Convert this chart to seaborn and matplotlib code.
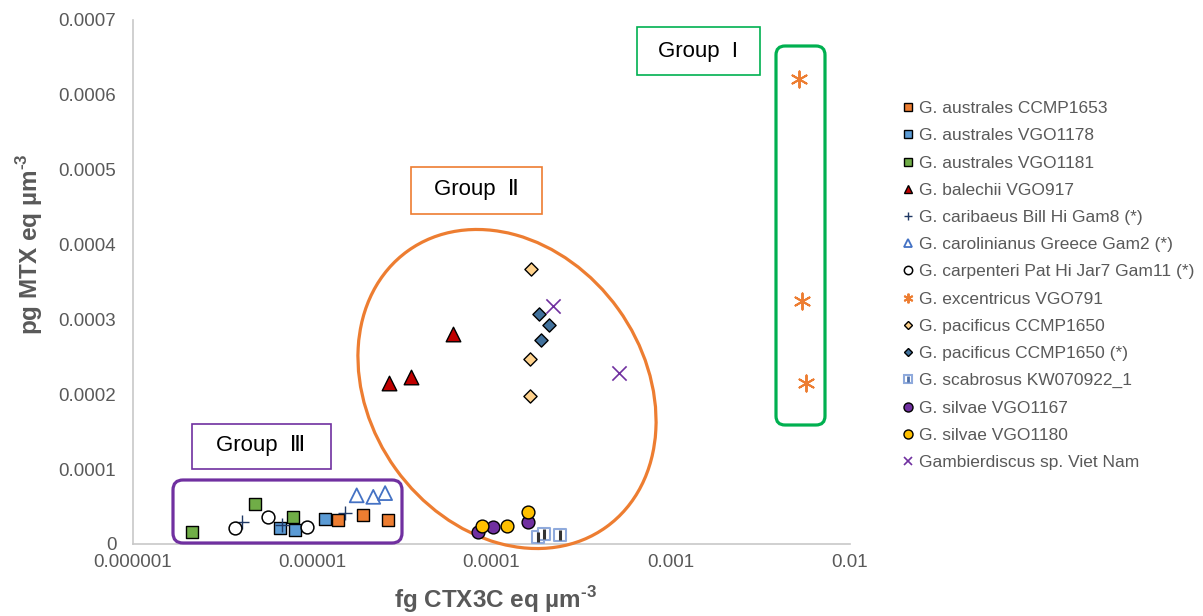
import matplotlib
matplotlib.use("Agg")
import matplotlib.pyplot as plt
import seaborn as sns
import pandas as pd
from matplotlib.patches import Ellipse, FancyBboxPatch, Rectangle
from matplotlib.lines import Line2D
from matplotlib.transforms import Affine2D

# ---------------- data ----------------
series_names = [
    "G. australes CCMP1653", "G. australes VGO1178", "G. australes VGO1181",
    "G. balechii VGO917", "G. caribaeus Bill Hi Gam8 (*)",
    "G. carolinianus Greece Gam2 (*)", "G. carpenteri Pat Hi Jar7 Gam11 (*)",
    "G. excentricus VGO791", "G. pacificus CCMP1650", "G. pacificus CCMP1650 (*)",
    "G. scabrosus KW070922_1", "G. silvae VGO1167", "G. silvae VGO1180",
    "Gambierdiscus sp. Viet Nam",
]

aus1653_x = [1.40e-5, 1.93e-5, 2.66e-5]
aus1653_y = [3.2e-5, 3.9e-5, 3.2e-5]
aus1178_x = [6.6e-6, 8.0e-6, 1.18e-5]
aus1178_y = [2.1e-5, 1.9e-5, 3.4e-5]
aus1181_x = [2.13e-6, 4.8e-6, 7.84e-6]
aus1181_y = [1.6e-5, 5.4e-5, 3.6e-5]
bal_x = [2.69e-5, 3.56e-5, 6.07e-5]
bal_y = [2.15e-4, 2.235e-4, 2.81e-4]
car_x = [4.04e-6, 6.75e-6, 1.52e-5]
car_y = [3.0e-5, 2.5e-5, 4.1e-5]
caro_x = [1.77e-5, 2.19e-5, 2.55e-5]
caro_y = [6.5e-5, 6.3e-5, 6.8e-5]
carp_x = [3.71e-6, 5.69e-6, 9.3e-6]
carp_y = [2.1e-5, 3.6e-5, 2.3e-5]
exc_x = [5.2e-3, 5.37e-3, 5.66e-3]
exc_y = [6.21e-4, 3.25e-4, 2.155e-4]
pac_x = [1.66e-4, 1.63e-4, 1.63e-4]
pac_y = [3.67e-4, 2.475e-4, 1.98e-4]
pacs_x = [1.85e-4, 2.10e-4, 1.89e-4]
pacs_y = [3.07e-4, 2.92e-4, 2.725e-4]
sca_x = [1.82e-4, 1.96e-4, 2.41e-4]
sca_y = [1.0e-5, 1.3e-5, 1.2e-5]
sil67_x = [8.45e-5, 1.02e-4, 1.60e-4]
sil67_y = [1.6e-5, 2.3e-5, 3.0e-5]
sil80_x = [8.82e-5, 1.22e-4, 1.60e-4]
sil80_y = [2.4e-5, 2.4e-5, 4.3e-5]
viet_x = [2.19e-4, 5.16e-4]
viet_y = [3.18e-4, 2.29e-4]

xs = [aus1653_x, aus1178_x, aus1181_x, bal_x, car_x, caro_x, carp_x,
      exc_x, pac_x, pacs_x, sca_x, sil67_x, sil80_x, viet_x]
ys = [aus1653_y, aus1178_y, aus1181_y, bal_y, car_y, caro_y, carp_y,
      exc_y, pac_y, pacs_y, sca_y, sil67_y, sil80_y, viet_y]

xtick_vals = [1e-6, 1e-5, 1e-4, 1e-3, 1e-2]
xtick_labels = ["0.000001", "0.00001", "0.0001", "0.001", "0.01"]
ytick_vals = [0, 1e-4, 2e-4, 3e-4, 4e-4, 5e-4, 6e-4, 7e-4]
ytick_labels = ["0", "0.0001", "0.0002", "0.0003", "0.0004", "0.0005", "0.0006", "0.0007"]

rows = []
for name, xv, yv in zip(series_names, xs, ys):
    for a, b in zip(xv, yv):
        rows.append({"series": name, "x": a, "y": b})
df = pd.DataFrame(rows)

# ---------------- styles ----------------
# marker, face, edge, s (pt^2), linewidth, legend markersize
styles = {
    "G. australes CCMP1653": ("s", "#ED7D31", "black", 85, 1.0, 6),
    "G. australes VGO1178": ("s", "#5B9BD5", "black", 85, 1.0, 6),
    "G. australes VGO1181": ("s", "#70AD47", "black", 85, 1.0, 6),
    "G. balechii VGO917": ("^", "#C00000", "black", 110, 1.0, 6),
    "G. caribaeus Bill Hi Gam8 (*)": ("+", "#203864", "#203864", 115, 1.0, 6),
    "G. carolinianus Greece Gam2 (*)": ("^", "none", "#4472C4", 100, 1.3, 6),
    "G. carpenteri Pat Hi Jar7 Gam11 (*)": ("o", "white", "black", 85, 1.1, 6),
    "G. excentricus VGO791": ((6, 2, 0), "#ED7D31", "#ED7D31", 135, 1.4, 7),
    "G. pacificus CCMP1650": ("D", "#FFD28C", "black", 45, 1.0, 4.5),
    "G. pacificus CCMP1650 (*)": ("D", "#41719C", "black", 45, 1.0, 4.5),
    "G. scabrosus KW070922_1": ("s", "white", "#8FAADC", 65, 1.5, 5.5),
    "G. silvae VGO1167": ("o", "#7030A0", "black", 85, 1.0, 6.5),
    "G. silvae VGO1180": ("o", "#FFC000", "black", 85, 1.0, 6.5),
    "Gambierdiscus sp. Viet Nam": ("x", "#7030A0", "#7030A0", 105, 1.2, 6),
}

# ---------------- figure ----------------
sns.set_theme(style="white")
plt.rcParams["font.family"] = ["Liberation Sans", "DejaVu Sans"]
plt.rcParams["mathtext.fontset"] = "custom"
plt.rcParams["mathtext.rm"] = "Liberation Sans"
plt.rcParams["mathtext.bf"] = "Liberation Sans:bold"

W, H = 1203, 616
fig = plt.figure(figsize=(W / 100, H / 100), dpi=100)
fig.patch.set_facecolor("white")
ax = fig.add_axes([133 / W, 1 - 544 / H, (850 - 133) / W, (544 - 20) / H])
# reference-pixel transform (x right, y down from the top-left corner)
PX = Affine2D().scale(1, -1).translate(0, H).scale(1 / 100) + fig.dpi_scale_trans

for name in series_names:
    m, fc, ec, s, lw, _ = styles[name]
    sub = df[df["series"] == name]
    sns.scatterplot(data=sub, x="x", y="y", marker=m, s=s, color=fc if fc != "none" else ec,
                    facecolor=fc, edgecolor=ec, linewidth=lw, ax=ax, zorder=4, legend=False)
    if name == "G. scabrosus KW070922_1":
        sns.scatterplot(data=sub, x="x", y="y", marker="|", s=45, color="#333333",
                        edgecolor="#333333", linewidth=2.2, ax=ax, zorder=5, legend=False)

ax.set_xscale("log")
ax.set_xlim(1e-6, 1e-2)
ax.set_ylim(0, 7e-4)
ax.set_xticks(xtick_vals)
ax.set_xticklabels(xtick_labels)
ax.xaxis.set_minor_locator(matplotlib.ticker.NullLocator())
ax.set_yticks(ytick_vals)
ax.set_yticklabels(ytick_labels)
ax.tick_params(axis="both", length=0, labelsize=13.5, labelcolor="#595959")
ax.tick_params(axis="x", pad=7)
ax.tick_params(axis="y", pad=12)
for side in ["top", "right"]:
    ax.spines[side].set_visible(False)
for side in ["left", "bottom"]:
    ax.spines[side].set_color("#C8C8C8")
    ax.spines[side].set_linewidth(1.2)
ax.set_facecolor("white")

ax.set_xlabel("fg CTX3C eq µm$^{\\mathbf{\u2010}\\mathbf{3}}$", fontsize=17.5,
              fontweight="bold", color="#595959")
ax.set_ylabel("pg MTX eq µm$^{\\mathbf{\u2010}\\mathbf{3}}$", fontsize=17.5,
              fontweight="bold", color="#595959")
ax.xaxis.set_label_coords((496 - 133) / 717, (544 - 600) / 524)
ax.yaxis.set_label_coords((30 - 133) / 717, (544 - 244) / 524)
ax.xaxis.label.set_va("center")
ax.yaxis.label.set_va("center")

# ---------------- group annotations ----------------
def add(p):
    a = ax.add_artist(p)
    a.set_clip_on(False)
    return a

add(Ellipse((507, 389), 340, 274, angle=54.3, transform=PX, fill=False,
            edgecolor="#ED7D31", linewidth=2.3, zorder=3))
add(FancyBboxPatch((776, 46), 49, 379, boxstyle="round,pad=0,rounding_size=9",
                   transform=PX, fill=False, edgecolor="#00B050", linewidth=2.3, zorder=3))
add(FancyBboxPatch((173, 480), 229, 63, boxstyle="round,pad=0,rounding_size=10",
                   transform=PX, fill=False, edgecolor="#7030A0", linewidth=2.3, zorder=3))

label_boxes = [
    ((637, 27, 123, 48), "#00B050", "Group  I", (698, 51)),
    ((411, 167, 131, 47), "#ED7D31", "Group  Ⅱ", (476, 190)),
    ((192, 424, 139, 45), "#7030A0", "Group  Ⅲ", (261, 446)),
]
for (bx, by, bw, bh), col, txt, (tx, ty) in label_boxes:
    add(Rectangle((bx, by), bw, bh, transform=PX, facecolor="white",
                  edgecolor=col, linewidth=1.2, zorder=6))
    t = ax.text(tx, ty, txt, transform=PX, ha="center", va="center", fontsize=16,
                color="black", zorder=7)
    t.set_clip_on(False)

# ---------------- legend ----------------
handles = []
for name in series_names:
    m, fc, ec, s, lw, ms = styles[name]
    h = Line2D([], [], linestyle="none", marker=m, markersize=ms,
               markerfacecolor=fc, markeredgecolor=ec, markeredgewidth=lw)
    if name == "G. scabrosus KW070922_1":
        h2 = Line2D([], [], linestyle="none", marker="|", markersize=4,
                    color="#4D6FA8", markeredgewidth=2.0)
        h = (h, h2)
    handles.append(h)

leg = fig.legend(handles, series_names, loc="upper left", bbox_to_anchor=(902, 101),
                 bbox_transform=PX, frameon=False, fontsize=12.5, labelspacing=0.695,
                 handlelength=0.7, handletextpad=0.3, borderpad=0, borderaxespad=0)
for t in leg.get_texts():
    t.set_color("#595959")

fig.savefig("out.png", dpi=100, facecolor="white")
